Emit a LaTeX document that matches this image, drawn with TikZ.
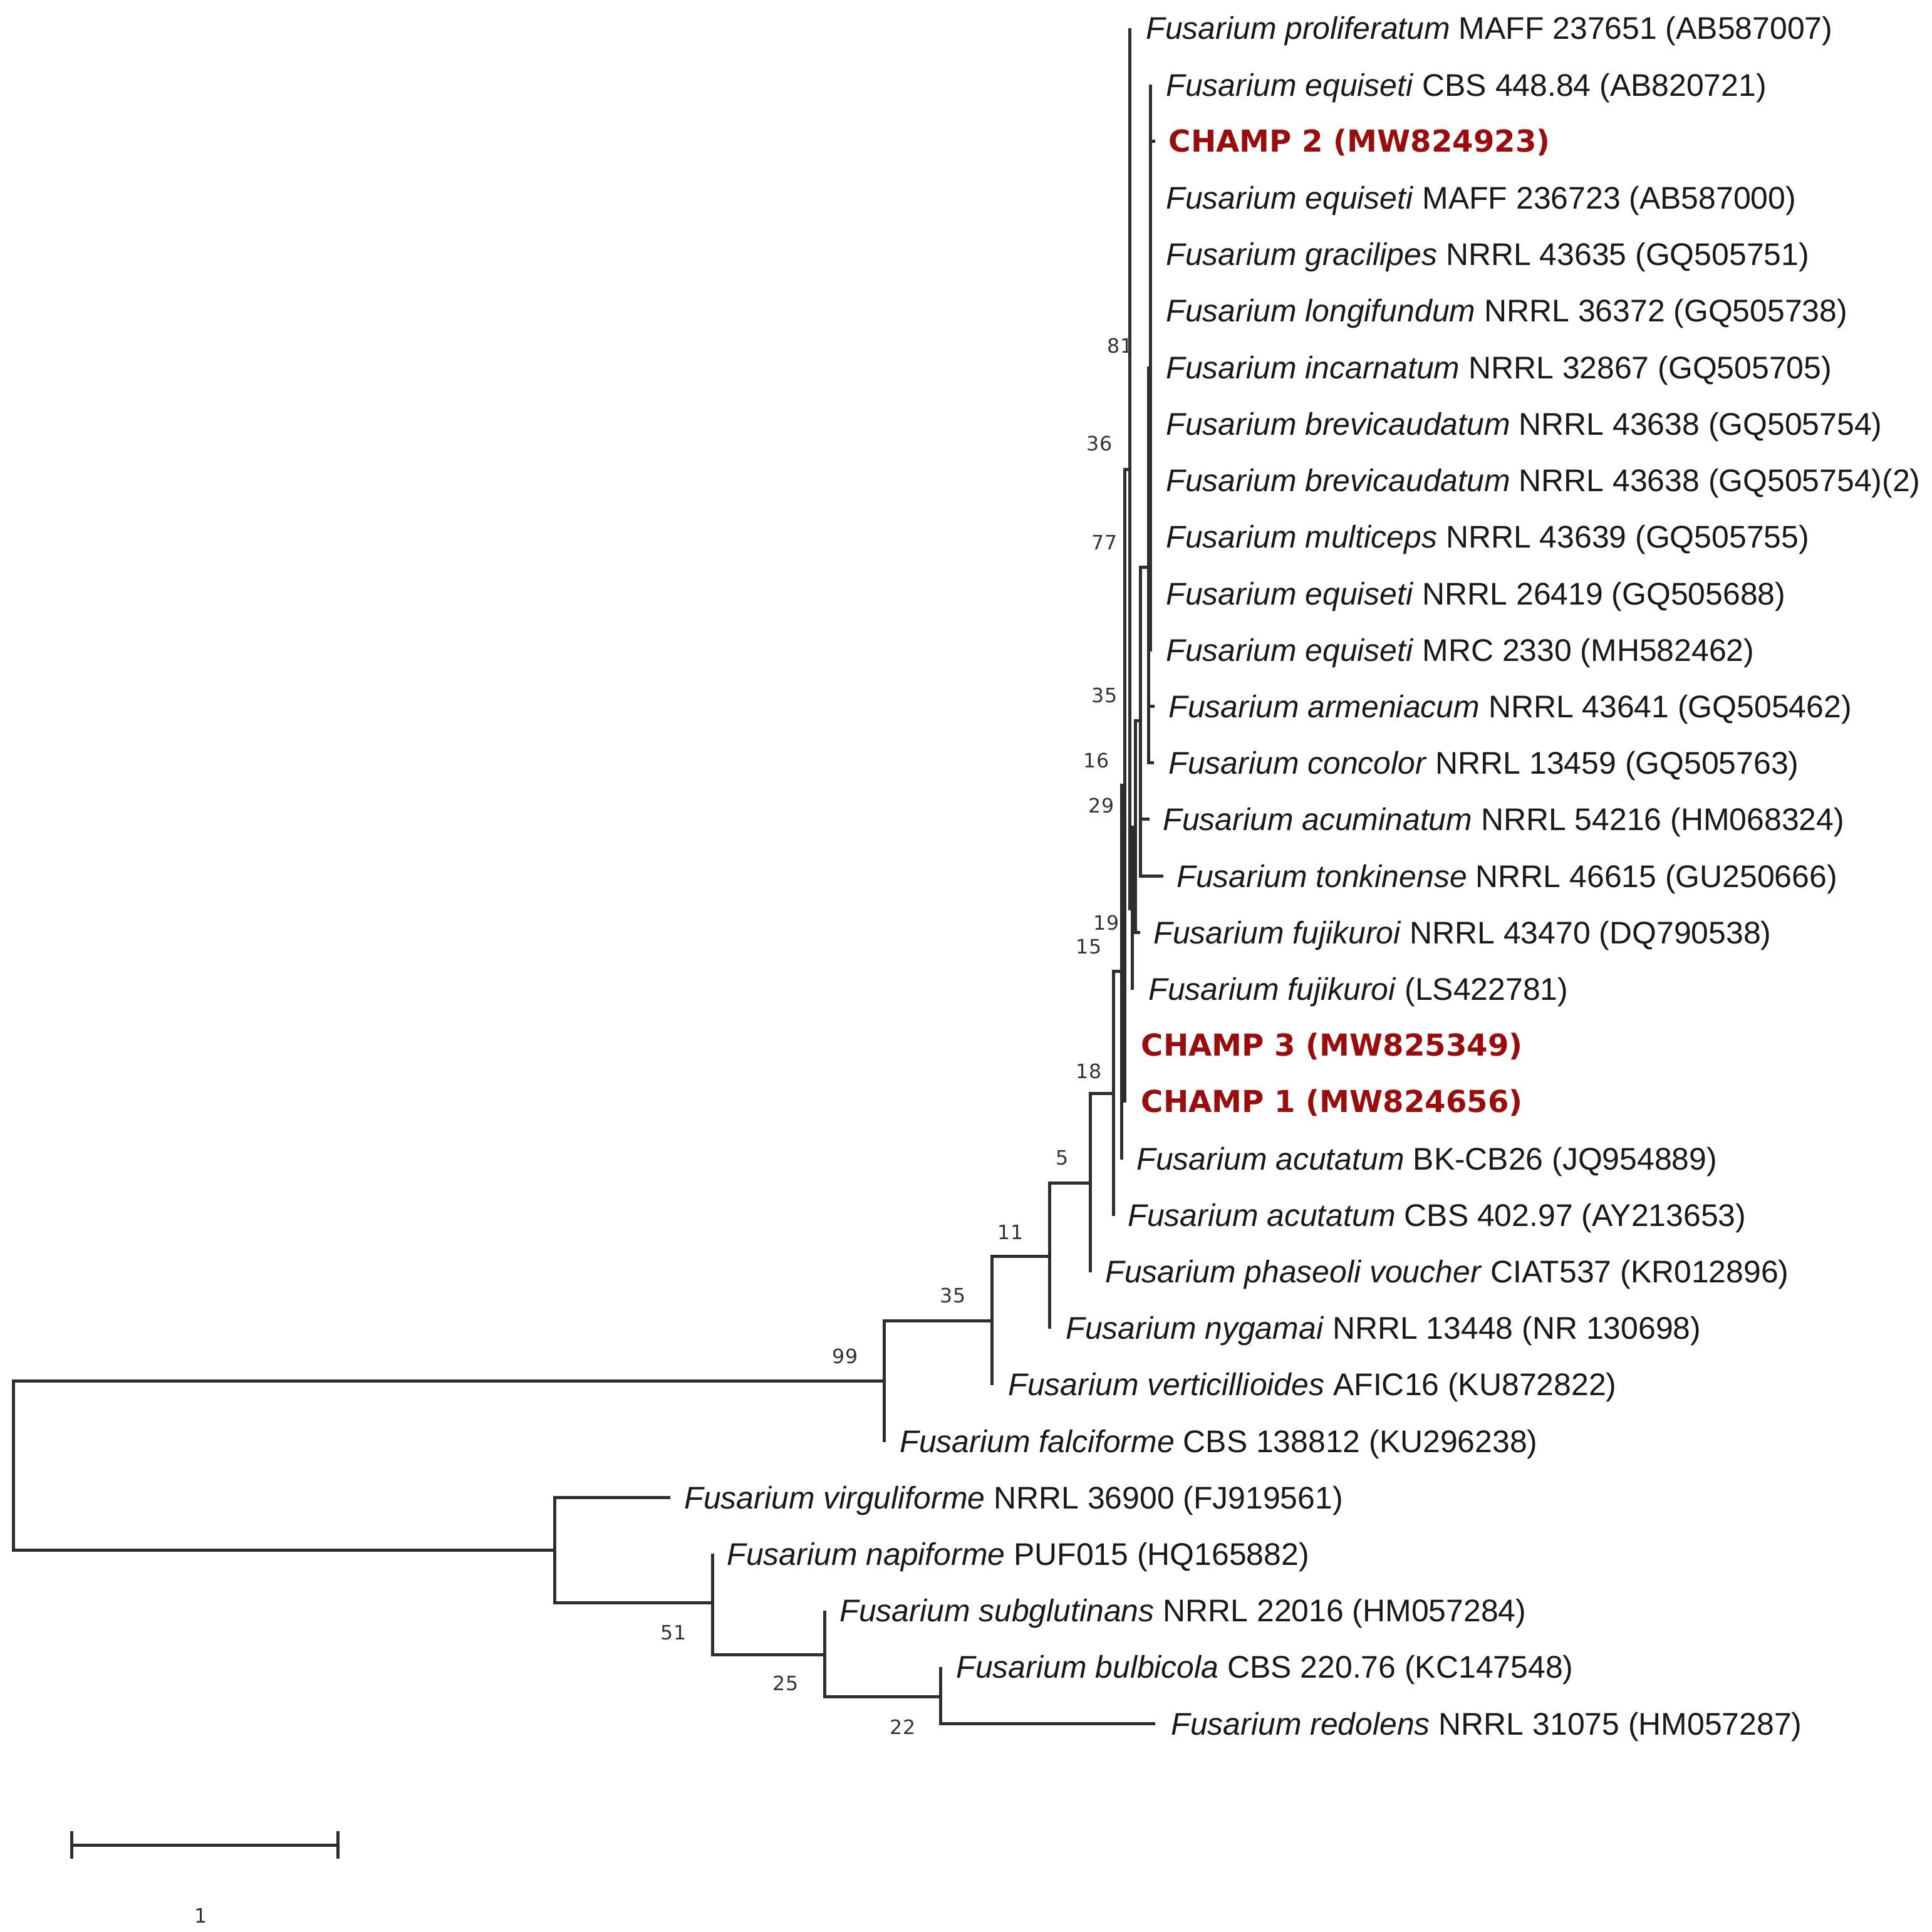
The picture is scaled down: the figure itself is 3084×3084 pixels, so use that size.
\documentclass[tikz,border=0pt]{standalone}
\usepackage{fontspec}
\setmainfont{Liberation Sans}
\newfontfamily\champfont{DejaVu Sans}
\newfontfamily\bsfont{DejaVu Sans}
\definecolor{champred}{RGB}{155,12,12}
\begin{document}
\begin{tikzpicture}[x=0.1mm,y=-0.1mm,
  br/.style={line width=0.5mm, draw=black!82},
  sp/.style={anchor=base west, inner sep=0, font=\fontsize{14.2}{17}\selectfont, text=black!90},
  champ/.style={anchor=base west, inner sep=0, font=\champfont\bfseries\fontsize{13.7}{16}\selectfont, text=champred},
  bs/.style={anchor=center, inner sep=0, font=\bsfont\fontsize{9}{11}\selectfont, text=black!80}]
\useasboundingbox (0,0) rectangle (3084,3084);
\fill[white] (0,0) rectangle (3084,3084);

% ---------- internal nodes ----------
\coordinate (R)    at (21,2339);
\coordinate (NA)   at (885,2474);
\coordinate (N51)  at (1137,2558);
\coordinate (N25)  at (1316,2641);
\coordinate (N22)  at (1501,2708);
\coordinate (N99)  at (1411,2204);
\coordinate (N35)  at (1583,2108);
\coordinate (N11)  at (1675,2005);
\coordinate (N5)   at (1740,1888);
\coordinate (N18)  at (1777,1745);
\coordinate (N15)  at (1790,1550);
\coordinate (N16)  at (1795,1253);
\coordinate (N36)  at (1803,750);
\coordinate (NU)   at (1807,1450);
\coordinate (N29)  at (1812,1320);
\coordinate (N35b) at (1820,1150);
\coordinate (P77)  at (1833,905);
\coordinate (N81)  at (1836,588);

% ---------- leaf tips ----------
\coordinate (t0)  at (1803,45);
\coordinate (t1)  at (1836,135.2);
\coordinate (t2)  at (1844,225.4);
\coordinate (t3)  at (1836,315.6);
\coordinate (t4)  at (1836,405.8);
\coordinate (t5)  at (1836,496.0);
\coordinate (t6)  at (1836,586.2);
\coordinate (t7)  at (1836,676.4);
\coordinate (t8)  at (1836,766.6);
\coordinate (t9)  at (1836,856.8);
\coordinate (t10) at (1836,947.0);
\coordinate (t11) at (1836,1040);
\coordinate (t12) at (1843,1127.4);
\coordinate (t13) at (1842,1217.6);
\coordinate (t14) at (1835,1307.8);
\coordinate (t15) at (1857,1398.0);
\coordinate (t16) at (1820,1488.2);
\coordinate (t17) at (1807,1580);
\coordinate (t18) at (1795,1668.6);
\coordinate (t19) at (1795,1760);
\coordinate (t20) at (1790,1851);
\coordinate (t21) at (1777,1941);
\coordinate (t22) at (1740,2031);
\coordinate (t23) at (1675,2121);
\coordinate (t24) at (1583,2211);
\coordinate (t25) at (1411,2302);
\coordinate (t26) at (1070,2390.2);
\coordinate (t27) at (1137,2480.4);
\coordinate (t28) at (1316,2570.6);
\coordinate (t29) at (1501,2660.8);
\coordinate (t30) at (1844,2751.0);

% ---------- branches ----------
\draw[br] (R) |- (N99);  \draw[br] (R) |- (NA);
\draw[br] (NA) |- (t26); \draw[br] (NA) |- (N51);
\draw[br] (N51) |- (t27); \draw[br] (N51) |- (N25);
\draw[br] (N25) |- (t28); \draw[br] (N25) |- (N22);
\draw[br] (N22) |- (t29); \draw[br] (N22) |- (t30);
\draw[br] (N99) |- (N35); \draw[br] (N99) |- (t25);
\draw[br] (N35) |- (N11); \draw[br] (N35) |- (t24);
\draw[br] (N11) |- (N5);  \draw[br] (N11) |- (t23);
\draw[br] (N5) |- (N18);  \draw[br] (N5) |- (t22);
\draw[br] (N18) |- (N15); \draw[br] (N18) |- (t21);
\draw[br] (N15) |- (N16); \draw[br] (N15) |- (t20);
\draw[br] (N16) |- (N36); \draw[br] (N16) |- (t18); \draw[br] (N16) |- (t19);
\draw[br] (N36) |- (t0);  \draw[br] (N36) |- (NU);
\draw[br] (NU) |- (N29);  \draw[br] (NU) |- (t17);
\draw[br] (N29) |- (N35b); \draw[br] (N29) |- (t16);
\draw[br] (N35b) |- (P77); \draw[br] (N35b) |- (t14); \draw[br] (N35b) |- (t15);
\draw[br] (P77) |- (N81); \draw[br] (P77) |- (t12); \draw[br] (P77) |- (t13);
\foreach \k in {1,2,3,4,5,6,7,8,9,10,11} {\draw[br] (N81) |- (t\k);}

% ---------- taxon labels ----------
\node[sp] (l0)  at (1829,63)     {\textit{Fusarium proliferatum} MAFF 237651 (AB587007)};
\node[sp] (l1)  at (1861,153.2)  {\textit{Fusarium equiseti} CBS 448.84 (AB820721)};
\node[champ] (l2) at (1865,242.4) {CHAMP 2 (MW824923)};
\node[sp] (l3)  at (1861,333.6)  {\textit{Fusarium equiseti} MAFF 236723 (AB587000)};
\node[sp] (l4)  at (1861,423.8)  {\textit{Fusarium gracilipes} NRRL 43635 (GQ505751)};
\node[sp] (l5)  at (1861,514.0)  {\textit{Fusarium longifundum} NRRL 36372 (GQ505738)};
\node[sp] (l6)  at (1861,604.2)  {\textit{Fusarium incarnatum} NRRL 32867 (GQ505705)};
\node[sp] (l7)  at (1861,694.4)  {\textit{Fusarium brevicaudatum} NRRL 43638 (GQ505754)};
\node[sp] (l8)  at (1861,784.6)  {\textit{Fusarium brevicaudatum} NRRL 43638 (GQ505754)(2)};
\node[sp] (l9)  at (1861,874.8)  {\textit{Fusarium multiceps} NRRL 43639 (GQ505755)};
\node[sp] (l10) at (1861,965.0)  {\textit{Fusarium equiseti} NRRL 26419 (GQ505688)};
\node[sp] (l11) at (1861,1055.2) {\textit{Fusarium equiseti} MRC 2330 (MH582462)};
\node[sp] (l12) at (1865,1145.4) {\textit{Fusarium armeniacum} NRRL 43641 (GQ505462)};
\node[sp] (l13) at (1865,1235.6) {\textit{Fusarium concolor} NRRL 13459 (GQ505763)};
\node[sp] (l14) at (1856,1325.8) {\textit{Fusarium acuminatum} NRRL 54216 (HM068324)};
\node[sp] (l15) at (1878,1416.0) {\textit{Fusarium tonkinense} NRRL 46615 (GU250666)};
\node[sp] (l16) at (1841,1506.2) {\textit{Fusarium fujikuroi} NRRL 43470 (DQ790538)};
\node[sp] (l17) at (1833,1596.4) {\textit{Fusarium fujikuroi} (LS422781)};
\node[champ] (l18) at (1821,1685.6) {CHAMP 3 (MW825349)};
\node[champ] (l19) at (1821,1775.8) {CHAMP 1 (MW824656)};
\node[sp] (l20) at (1814,1867.0) {\textit{Fusarium acutatum} BK-CB26 (JQ954889)};
\node[sp] (l21) at (1800,1957.2) {\textit{Fusarium acutatum} CBS 402.97 (AY213653)};
\node[sp] (l22) at (1764,2047.4) {\textit{Fusarium phaseoli voucher} CIAT537 (KR012896)};
\node[sp] (l23) at (1701,2137.6) {\textit{Fusarium nygamai} NRRL 13448 (NR 130698)};
\node[sp] (l24) at (1609,2227.8) {\textit{Fusarium verticillioides} AFIC16 (KU872822)};
\node[sp] (l25) at (1436,2318.0) {\textit{Fusarium falciforme} CBS 138812 (KU296238)};
\node[sp] (l26) at (1092,2408.2) {\textit{Fusarium virguliforme} NRRL 36900 (FJ919561)};
\node[sp] (l27) at (1160,2498.4) {\textit{Fusarium napiforme} PUF015 (HQ165882)};
\node[sp] (l28) at (1340,2588.6) {\textit{Fusarium subglutinans} NRRL 22016 (HM057284)};
\node[sp] (l29) at (1526,2678.8) {\textit{Fusarium bulbicola} CBS 220.76 (KC147548)};
\node[sp] (l30) at (1869,2769.0) {\textit{Fusarium redolens} NRRL 31075 (HM057287)};

% ---------- bootstrap values ----------
\node[bs] (b81)  at (1788,552)  {81};
\node[bs] (b36)  at (1755,708)  {36};
\node[bs] (b77)  at (1763,866)  {77};
\node[bs] (b35a) at (1763,1110) {35};
\node[bs] (b16)  at (1750,1214) {16};
\node[bs] (b29)  at (1758,1286) {29};
\node[bs] (b19)  at (1766,1473) {19};
\node[bs] (b15)  at (1738,1511) {15};
\node[bs] (b18)  at (1738,1710) {18};
\node[bs] (b5)   at (1696,1848) {5};
\node[bs] (b11)  at (1613,1967) {11};
\node[bs] (b35)  at (1521,2068) {35};
\node[bs] (b99)  at (1349,2165) {99};
\node[bs] (b51)  at (1075,2606) {51};
\node[bs] (b25)  at (1254,2687) {25};
\node[bs] (b22)  at (1441,2757) {22};

% ---------- scale bar ----------
\coordinate (s1) at (114,2945);
\coordinate (s2) at (539,2945);
\coordinate (s1a) at (114,2923);
\coordinate (s1b) at (114,2967);
\coordinate (s2a) at (539,2923);
\coordinate (s2b) at (539,2967);
\draw[br] (s1) -- (s2);
\draw[br] (s1a) -- (s1b);
\draw[br] (s2a) -- (s2b);
\node[bs] (sl) at (321,3058) {1};
\end{tikzpicture}
\end{document}
